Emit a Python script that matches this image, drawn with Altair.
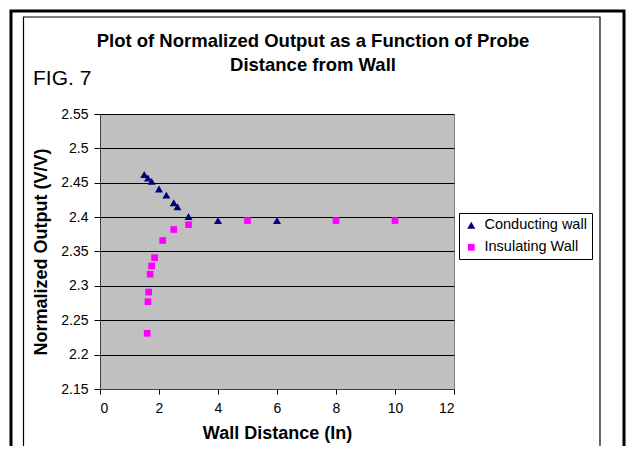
import altair as alt
import pandas as pd

# Conducting wall (triangles)
cond_x = [1.5, 1.625, 1.75, 2.0, 2.25, 2.5, 2.625, 3.0, 4.0, 6.0]
cond_y = [2.462, 2.457, 2.452, 2.441, 2.432, 2.421, 2.415, 2.401, 2.395, 2.395]
# Insulating wall (squares)
ins_x = [1.6, 1.625, 1.65, 1.7, 1.75, 1.85, 2.125, 2.5, 3.0, 5.0, 8.0, 10.0]
ins_y = [2.231, 2.277, 2.291, 2.317, 2.329, 2.341, 2.366, 2.382, 2.389, 2.395, 2.395, 2.395]

series_names = ["Conducting wall", "Insulating Wall"]
series_colors = ["#000080", "#FF00FF"]
series_shapes = ["triangle-up", "square"]
series_sizes = [64, 45]

x_ticks = [0, 2, 4, 6, 8, 10, 12]
y_ticks = [2.15, 2.2, 2.25, 2.3, 2.35, 2.4, 2.45, 2.5, 2.55]

title_lines = ["Plot of Normalized Output as a Function of Probe", "Distance from Wall"]
fig_label = "FIG. 7"
x_title = "Wall Distance (In)"
y_title = "Normalized Output (V/V)"

FONT = "Liberation Sans, Arial, sans-serif"

df = pd.DataFrame({
    "x": cond_x + ins_x,
    "y": cond_y + ins_y,
    "series": [series_names[0]] * len(cond_x) + [series_names[1]] * len(ins_x),
})

W, H = 354, 275

points = alt.Chart(df).mark_point(filled=True, opacity=1).encode(
    x=alt.X("x:Q", scale=alt.Scale(domain=[0, 12], nice=False, zero=False),
            axis=alt.Axis(values=x_ticks, title=x_title, grid=False, format="d",
                          labelFontSize=14, labelPadding=7, tickSize=5,
                          titleFontSize=18, titleFontWeight="bold", titlePadding=9)),
    y=alt.Y("y:Q", scale=alt.Scale(domain=[2.15, 2.55], nice=False, zero=False),
            axis=alt.Axis(values=y_ticks, title=y_title, grid=True, format="~g",
                          labelFontSize=14, labelPadding=6, tickSize=6,
                          titleFontSize=18, titleFontWeight="bold", titlePadding=10)),
    color=alt.Color("series:N", scale=alt.Scale(domain=series_names, range=series_colors),
                    legend=alt.Legend(title=None, orient="none", legendX=359, legendY=99,
                                      labelFontSize=14.5, symbolSize=36, padding=5,
                                      rowPadding=7, labelOffset=6,
                                      strokeColor="black", fillColor="white",
                                      symbolStrokeWidth=0)),
    shape=alt.Shape("series:N", scale=alt.Scale(domain=series_names, range=series_shapes)),
    size=alt.Size("series:N", scale=alt.Scale(domain=series_names, range=series_sizes), legend=None),
)

one = pd.DataFrame({"k": [0]})

outer = alt.Chart(one).mark_rect(fillOpacity=0, stroke="black", strokeWidth=3).encode(
    x=alt.value(-89), x2=alt.value(524), y=alt.value(-103), y2=alt.value(400))
inner = alt.Chart(one).mark_rect(fillOpacity=0, stroke="black", strokeWidth=1.2).encode(
    x=alt.value(-76.5), x2=alt.value(500), y=alt.value(-97), y2=alt.value(400))

t1 = alt.Chart(one).mark_text(text=title_lines[0], font=FONT, fontSize=18.5, fontWeight="bold",
                              align="center", baseline="middle").encode(
    x=alt.value(213), y=alt.value(-73))
t2 = alt.Chart(one).mark_text(text=title_lines[1], font=FONT, fontSize=18.5, fontWeight="bold",
                              align="center", baseline="middle").encode(
    x=alt.value(213), y=alt.value(-49))
fig = alt.Chart(one).mark_text(text=fig_label, font="Liberation Sans Narrow, Liberation Sans, sans-serif",
                               fontSize=21, align="left", baseline="alphabetic").encode(
    x=alt.value(-67), y=alt.value(-29))

chart = alt.layer(outer, inner, t1, t2, fig, points).properties(
    width=W, height=H,
    autosize=alt.AutoSizeParams(type="none"),
    padding={"left": 92, "top": 106, "right": 172, "bottom": 57},
).configure_view(
    fill="#C0C0C0", stroke="#808080", strokeWidth=1
).configure_axis(
    labelFont=FONT, titleFont=FONT, labelColor="black", titleColor="black",
    domainColor="#404040", tickColor="black", gridColor="black", gridWidth=1,
).configure_legend(
    labelFont=FONT, labelColor="black"
)

chart.save("out.html", embed_options={"renderer": "svg", "actions": False})
